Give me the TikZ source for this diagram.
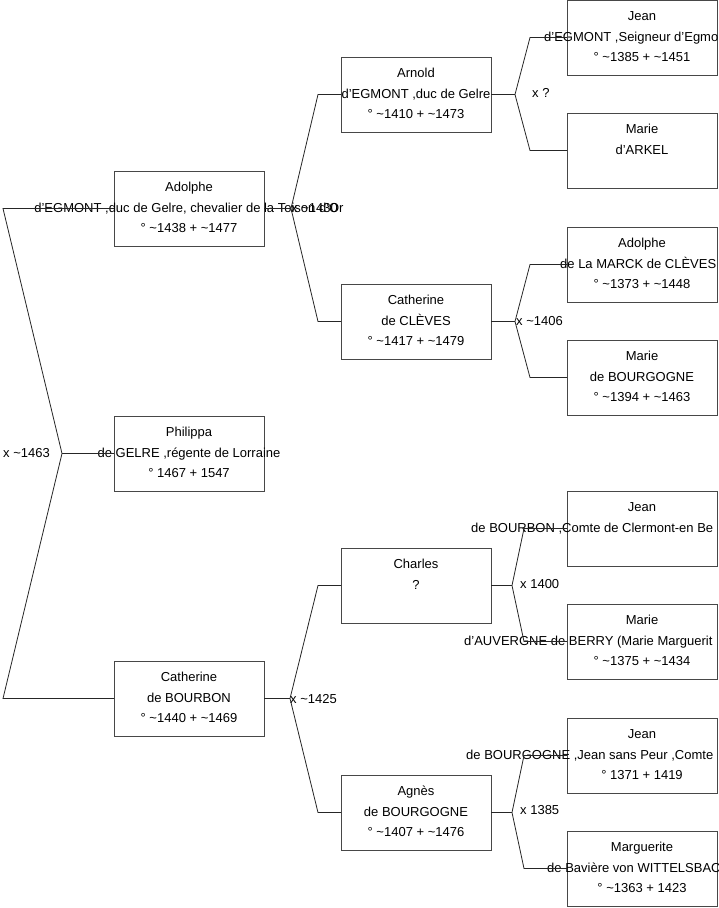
\documentclass[tikz,border=0pt]{standalone}
\usepackage{fontspec}
\setmainfont{Liberation Sans}
\newcommand\fsz{\fontsize{13}{15}\selectfont}
\newcommand\personbox[6]{%
  \node[person] (#1) at (#2,#3) {};
  \node[txt] (#1-a) at ([yshift=-20.7pt]#1.north) {#4};
  \node[txt] (#1-b) at ([yshift=-41.2pt]#1.north) {#5};
  \node[txt] (#1-c) at ([yshift=-61.7pt]#1.north) {#6};}
\newcommand\personboxL[7]{%
  \node[person] (#1) at (#2,#3) {};
  \node[txt] (#1-a) at ([yshift=-20.7pt]#1.north) {#4};
  \node[txtw] (#1-b) at (#5,#3+41.2) {#6};
  \node[txt] (#1-c) at ([yshift=-61.7pt]#1.north) {#7};}
\begin{document}
\begin{tikzpicture}[x=1pt,y=-1pt,
  person/.style={draw=black!72,line width=1pt,minimum width=150pt,minimum height=75pt,anchor=north west,inner sep=0pt,outer sep=0pt},
  txt/.style={font=\fsz,inner sep=0pt,anchor=base},
  txtw/.style={font=\fsz,inner sep=0pt,anchor=base west},
  mlabel/.style={font=\fsz,inner sep=0pt,anchor=base west},
  link/.style={draw=black!85,line width=0.8pt}]
\clip (0,0) rectangle (719,908);
\fill[white] (0,0) rectangle (719,908);
% column 1
\personbox{adolphe}{114}{171}{Adolphe}{d'EGMONT ,duc de Gelre, chevalier de la Toison d'Or}{° \textasciitilde1438 + \textasciitilde1477}
\personbox{philippa}{114}{416}{Philippa}{de GELRE ,régente de Lorraine}{° 1467 + 1547}
\personbox{cathb}{114}{661}{Catherine}{de BOURBON}{° \textasciitilde1440 + \textasciitilde1469}
% column 2
\personbox{arnold}{341}{57}{Arnold}{d'EGMONT ,duc de Gelre}{° \textasciitilde1410 + \textasciitilde1473}
\personbox{cathc}{341}{284}{Catherine}{de CLÈVES}{° \textasciitilde1417 + \textasciitilde1479}
\personbox{charles}{341}{548}{Charles}{?}{}
\personbox{agnes}{341}{775}{Agnès}{de BOURGOGNE}{° \textasciitilde1407 + \textasciitilde1476}
% column 3
\personboxL{jeane}{567}{0}{Jean}{544}{d'EGMONT ,Seigneur d'Egmo}{° \textasciitilde1385 + \textasciitilde1451}
\personbox{mariea}{567}{113}{Marie}{d'ARKEL}{}
\personboxL{adolphem}{567}{227}{Adolphe}{560}{de La MARCK de CLÈVES}{° \textasciitilde1373 + \textasciitilde1448}
\personbox{marieb}{567}{340}{Marie}{de BOURGOGNE}{° \textasciitilde1394 + \textasciitilde1463}
\personboxL{jeanb}{567}{491}{Jean}{471}{de BOURBON ,Comte de Clermont-en Be}{}
\personboxL{marieau}{567}{604}{Marie}{464}{d'AUVERGNE de BERRY (Marie Marguerit}{° \textasciitilde1375 + \textasciitilde1434}
\personboxL{jeanbg}{567}{718}{Jean}{466}{de BOURGOGNE ,Jean sans Peur ,Comte}{° 1371 + 1419}
\personboxL{marg}{567}{831}{Marguerite}{547}{de Bavière von WITTELSBAC}{° \textasciitilde1363 + 1423}
% fork points
\coordinate (f0) at (62,453.5);
\coordinate (f1) at (291,208.5);
\coordinate (f2) at (515,94.5);
\coordinate (f3) at (515,321.5);
\coordinate (f4) at (290,698.5);
\coordinate (f5) at (512,585.5);
\coordinate (f6) at (512,812.5);
% connectors
\draw[link] (philippa.west) -- (f0);
\draw[link] (adolphe.west) -- ([xshift=-111pt]adolphe.west) -- (f0) -- ([xshift=-111pt]cathb.west) -- (cathb.west);
\draw[link] (adolphe.east) -- (f1);
\draw[link] (arnold.west) -- ([xshift=-23pt]arnold.west) -- (f1) -- ([xshift=-23pt]cathc.west) -- (cathc.west);
\draw[link] (arnold.east) -- (f2);
\draw[link] (jeane.west) -- ([xshift=-37pt]jeane.west) -- (f2) -- ([xshift=-37pt]mariea.west) -- (mariea.west);
\draw[link] (cathc.east) -- (f3);
\draw[link] (adolphem.west) -- ([xshift=-37pt]adolphem.west) -- (f3) -- ([xshift=-37pt]marieb.west) -- (marieb.west);
\draw[link] (cathb.east) -- (f4);
\draw[link] (charles.west) -- ([xshift=-23pt]charles.west) -- (f4) -- ([xshift=-23pt]agnes.west) -- (agnes.west);
\draw[link] (charles.east) -- (f5);
\draw[link] (jeanb.west) -- ([xshift=-43pt]jeanb.west) -- (f5) -- ([xshift=-43pt]marieau.west) -- (marieau.west);
\draw[link] (agnes.east) -- (f6);
\draw[link] (jeanbg.west) -- ([xshift=-43pt]jeanbg.west) -- (f6) -- ([xshift=-43pt]marg.west) -- (marg.west);
% marriage labels
\node[mlabel] (m0) at (3,457) {x \textasciitilde1463};
\node[mlabel] (m1) at (291,212.5) {x \textasciitilde1430};
\node[mlabel] (m2) at (532,97.5) {x ?};
\node[mlabel] (m3) at (516,325) {x \textasciitilde1406};
\node[mlabel] (m4) at (290,703) {x \textasciitilde1425};
\node[mlabel] (m5) at (520,588.5) {x 1400};
\node[mlabel] (m6) at (520,814.5) {x 1385};
\end{tikzpicture}
\end{document}
